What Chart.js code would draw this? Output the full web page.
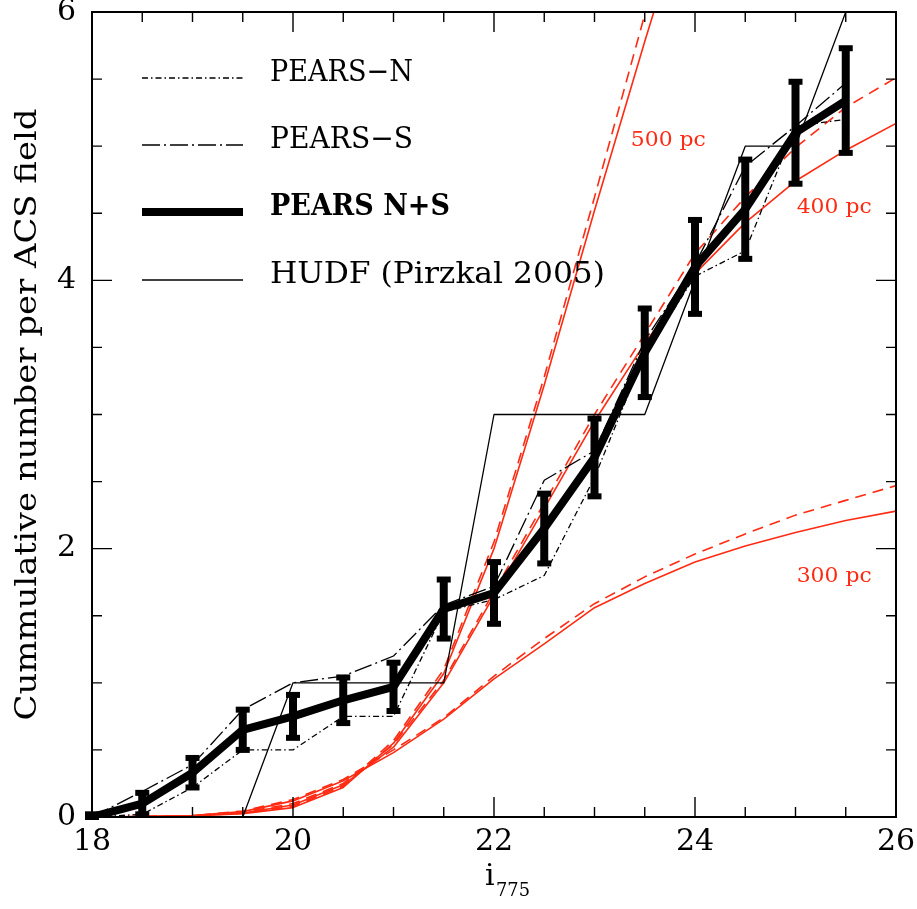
<!DOCTYPE html>
<html><head><meta charset="utf-8">
<script src="https://cdn.jsdelivr.net/npm/chart.js@4/dist/chart.umd.min.js"></script>
<style>html,body{margin:0;padding:0;background:#fff;}</style>
</head><body>
<canvas id="c" width="917" height="909"></canvas>
<script>
// ---- data ----
const mags = [18,18.5,19,19.5,20,20.5,21,21.5,22,22.5,23,23.5,24,24.5,25,25.5];
const pearsNS    = [0,0.10,0.33,0.65,0.75,0.87,0.97,1.55,1.67,2.15,2.68,3.46,4.10,4.53,5.10,5.34];
const pearsNSerr = [0.02,0.08,0.11,0.15,0.16,0.17,0.18,0.22,0.23,0.26,0.29,0.33,0.35,0.37,0.38,0.39];
const pearsN     = [0,0.02,0.22,0.50,0.50,0.75,0.75,1.53,1.62,1.80,2.53,3.45,4.03,4.22,5.15,5.20];
const pearsS     = [0,0.19,0.39,0.80,1.00,1.05,1.20,1.58,1.72,2.51,2.73,3.55,4.12,4.85,5.15,5.47];
const hudf       = [0,0,0,0,1,1,1,1,3,3,3,3,4,5,5,6];

const modelMags = [18,18.5,19,19.5,20,20.5,21,21.5,22,22.5,23,23.5,24,24.5,25,25.5,26];
const m300solid  = [0,0.003,0.01,0.04,0.12,0.27,0.48,0.73,1.03,1.29,1.56,1.74,1.90,2.02,2.12,2.21,2.28];
const m300dashed = [0,0.003,0.01,0.045,0.13,0.28,0.50,0.74,1.05,1.33,1.59,1.79,1.96,2.11,2.25,2.36,2.47];
const m400solid  = [0,0.003,0.01,0.03,0.09,0.24,0.52,1.00,1.65,2.30,2.95,3.53,4.05,4.43,4.74,4.97,5.17];
const m400dashed = [0,0.003,0.01,0.035,0.10,0.25,0.54,1.02,1.68,2.34,3.00,3.60,4.20,4.62,4.99,5.29,5.51];
const m500solid  = [0,0.002,0.008,0.025,0.07,0.22,0.55,1.07,2.00,3.22,4.52,5.78,7.00];
const m500dashed = [0,0.002,0.008,0.028,0.08,0.23,0.57,1.10,2.05,3.28,4.62,5.98,7.30];

const xTicks = [18,20,22,24,26];
const yTicks = [0,2,4,6];
const modelLabels = [
  {text:'500 pc', x:23.73, y:5.04},
  {text:'400 pc', x:25.38, y:4.54},
  {text:'300 pc', x:25.38, y:1.79}
];
const legendItems = ['PEARS\u2212N','PEARS\u2212S','PEARS N+S','HUDF (Pirzkal 2005)'];
const yTitle = 'Cummulative number per ACS field';
const xTitleMain = 'i', xTitleSub = '775';

// ---- styles ----
const RED = '#ff2a12';
const SERIF = '"DejaVu Serif", "Liberation Serif", serif';
const dashN = [6,3,1.5,3];
const dashS = [18,4,2,4];
const dashR = [11,7];

const pts = (xs, ys) => ys.map((v,i)=>({x:xs[i], y:v}));

function lineDS(label, xs, ys, color, width, dash, order){
  return {label, data:pts(xs,ys), borderColor:color, borderWidth:width, borderDash:dash||[],
    pointRadius:0, fill:false, tension:0, order, borderJoinStyle:'round', borderCapStyle:'butt'};
}

const datasets = [
  lineDS('PEARS N+S', mags, pearsNS, '#000', 8, [], 0),
  lineDS('PEARS-N', mags, pearsN, '#000', 1.3, dashN, 2),
  lineDS('PEARS-S', mags, pearsS, '#000', 1.3, dashS, 2),
  lineDS('HUDF', mags, hudf, '#000', 1.3, [], 3),
  lineDS('300 pc', modelMags, m300solid, RED, 1.6, [], 5),
  lineDS('300 pc d', modelMags, m300dashed, RED, 1.6, dashR, 5),
  lineDS('400 pc', modelMags, m400solid, RED, 1.6, [], 5),
  lineDS('400 pc d', modelMags, m400dashed, RED, 1.6, dashR, 5),
  lineDS('500 pc', modelMags, m500solid, RED, 1.6, [], 5),
  lineDS('500 pc d', modelMags, m500dashed, RED, 1.6, dashR, 5),
];

// text drawn with a horizontal stretch to a target width
function fitText(ctx, text, x, y, targetW){
  const w = ctx.measureText(text).width;
  ctx.save();
  ctx.translate(x, y);
  ctx.scale(targetW / w, 1);
  ctx.fillText(text, 0, 0);
  ctx.restore();
}

const errPlugin = {
  id:'errbars',
  afterDatasetsDraw(chart){
    const {ctx, scales:{x,y}} = chart;
    ctx.save();
    ctx.fillStyle = '#000';
    mags.forEach((m,i)=>{
      const e = pearsNSerr[i];
      const px = x.getPixelForValue(m);
      const top = y.getPixelForValue(pearsNS[i]+e);
      const bot = y.getPixelForValue(Math.max(pearsNS[i]-e,0));
      ctx.fillRect(px-4, top, 8, bot-top);
      ctx.fillRect(px-7, top-3, 14, 6);
      ctx.fillRect(px-7, bot-3, 14, 6);
    });
    ctx.restore();
  }
};

const framePlugin = {
  id:'frame',
  afterDraw(chart){
    const {ctx, chartArea:a, scales:{x,y}} = chart;
    ctx.save();
    ctx.strokeStyle = '#000';
    ctx.lineWidth = 1.4;
    ctx.beginPath();
    for(let v=x.min; v<=x.max+1e-9; v+=0.5){
      const px = x.getPixelForValue(v);
      const L = (Math.abs(v%2)<1e-9) ? 20 : 10;
      ctx.moveTo(px,a.bottom); ctx.lineTo(px,a.bottom-L);
      ctx.moveTo(px,a.top); ctx.lineTo(px,a.top+L);
    }
    for(let v=y.min; v<=y.max+1e-9; v+=0.5){
      const py = y.getPixelForValue(v);
      const L = (Math.abs(v%2)<1e-9) ? 20 : 10;
      ctx.moveTo(a.left,py); ctx.lineTo(a.left+L,py);
      ctx.moveTo(a.right,py); ctx.lineTo(a.right-L,py);
    }
    ctx.stroke();
    ctx.lineWidth = 2;
    ctx.strokeRect(a.left, a.top, a.width, a.height);

    // model labels
    ctx.fillStyle = RED;
    ctx.font = '21px ' + SERIF;
    ctx.textAlign = 'left';
    ctx.textBaseline = 'middle';
    modelLabels.forEach(l=>{
      fitText(ctx, l.text, x.getPixelForValue(l.x)-37, y.getPixelForValue(l.y), 75);
    });

    // legend
    const rows = [78, 145, 212, 280];
    const x0 = 142, x1 = 243, tx = 270;
    const widths = [143, 143, 180, 335];
    const styles = [
      {w:1.3, d:dashN}, {w:1.3, d:dashS}, {w:8, d:[]}, {w:1.3, d:[]}
    ];
    ctx.textBaseline = 'alphabetic';
    ctx.fillStyle = '#000';
    rows.forEach((ry,i)=>{
      ctx.beginPath();
      ctx.lineWidth = styles[i].w;
      ctx.setLineDash(styles[i].d);
      ctx.moveTo(x0, ry); ctx.lineTo(x1, ry);
      ctx.stroke();
      ctx.setLineDash([]);
      ctx.font = (i===2 ? 'bold ' : '') + '30px ' + SERIF;
      fitText(ctx, legendItems[i], tx, ry+3, widths[i]);
    });

    // y axis title (rotated)
    ctx.save();
    ctx.translate(36, (a.top+a.bottom)/2);
    ctx.rotate(-Math.PI/2);
    ctx.font = '29px ' + SERIF;
    ctx.textBaseline = 'alphabetic';
    const tw = ctx.measureText(yTitle).width;
    ctx.scale(612/tw, 1);
    ctx.fillText(yTitle, -tw/2, 0);
    ctx.restore();

    // x axis title i_775
    ctx.font = '30px ' + SERIF;
    ctx.textBaseline = 'alphabetic';
    ctx.fillText(xTitleMain, 485, 885);
    ctx.font = '19px ' + SERIF;
    fitText(ctx, xTitleSub, 496, 896, 34);
    ctx.restore();
  }
};

new Chart(document.getElementById('c'), {
  type:'line',
  data:{datasets},
  options:{
    responsive:false,
    animation:false,
    devicePixelRatio:1,
    layout:{padding:{top:12, right:21, left:0, bottom:0}},
    plugins:{legend:{display:false}, tooltip:{enabled:false}},
    scales:{
      x:{
        type:'linear', min:18, max:26,
        afterBuildTicks(s){ s.ticks = xTicks.map(v=>({value:v})); },
        ticks:{font:{family:SERIF, size:30, lineHeight:1}, color:'#000', padding:10, maxRotation:0},
        grid:{display:false, drawTicks:false},
        border:{display:false},
        afterFit(s){ s.height = 92; s.paddingLeft = 0; s.paddingRight = 0; }
      },
      y:{
        type:'linear', min:0, max:6,
        afterBuildTicks(s){ s.ticks = yTicks.map(v=>({value:v})); },
        ticks:{font:{family:SERIF, size:30, lineHeight:1}, color:'#000', padding:16},
        grid:{display:false, drawTicks:false},
        border:{display:false},
        afterFit(s){ s.width = 92; s.paddingTop = 0; s.paddingBottom = 0; }
      }
    }
  },
  plugins:[errPlugin, framePlugin]
});
</script>
</body></html>
